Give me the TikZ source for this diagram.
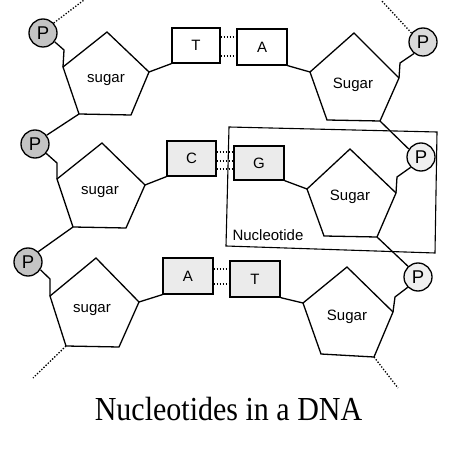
\documentclass[tikz,border=0pt]{standalone}
\usepackage{fontspec}
\setmainfont{Liberation Serif}
\setsansfont{Liberation Sans}
\usetikzlibrary{calc}
\definecolor{pdark}{HTML}{C4C4C4}
\definecolor{pmid}{HTML}{DADADA}
\definecolor{plight}{HTML}{EFEFEF}
\definecolor{boxgray}{HTML}{EBEBEB}
\tikzset{
  ln/.style={line width=1.3pt, line join=miter},
  dotln/.style={line width=1.3pt, dash pattern=on 1.3pt off 1.7pt},
  phos/.style={circle, draw, line width=1.3pt, minimum size=28pt, inner sep=0pt, font=\sffamily\fontsize{18.5}{18.5}\selectfont},
  base/.style={draw, line width=1.3pt, inner sep=0pt, font=\sffamily\fontsize{15}{15}\selectfont},
  sug/.style={font=\sffamily\fontsize{15}{15}\selectfont}
}
\newcommand\mypent[8]{%
  \coordinate (#1-a) at #2; \coordinate (#1-r) at #3; \coordinate (#1-br) at #4;
  \coordinate (#1-bl) at #5; \coordinate (#1-l) at #6;
  \draw[ln] (#1-a) -- (#1-r) -- (#1-br) -- (#1-bl) -- (#1-l) -- cycle;
  \node[sug] (#1-t) at #7 {#8};}
\begin{document}
\begin{tikzpicture}[x=1pt,y=-1pt]
\useasboundingbox (0,0) rectangle (474,449);
% pentagons
\mypent{TL}{(107,32)}{(149,72)}{(131,115)}{(79,114)}{(63,67)}{(106,80)}{sugar}
\mypent{TR}{(354,33)}{(399,78)}{(380,121)}{(327,120)}{(310,72)}{(353,85)}{Sugar}
\mypent{ML}{(102,143)}{(145,185)}{(126,228)}{(73,227)}{(57,179)}{(100,192)}{sugar}
\mypent{MR}{(350,149)}{(396,193)}{(377,237)}{(324,236)}{(307,189)}{(350,197)}{Sugar}
\mypent{BL}{(96,258)}{(139,302)}{(119,347)}{(66,346)}{(50,296)}{(92,310)}{sugar}
\mypent{BR}{(347,267)}{(393,312)}{(374,357)}{(321,354)}{(303,303)}{(347,317)}{Sugar}
% phosphates
\node[phos, fill=pdark] (P1) at (43,33) {P};
\node[phos, fill=pmid] (P2) at (423,42) {P};
\node[phos, fill=pdark] (P3) at (35,144) {P};
\node[phos, fill=plight] (P4) at (421,157) {P};
\node[phos, fill=pdark] (P5) at (28,262) {P};
\node[phos, fill=plight] (P6) at (418,277) {P};
% bases
\node[base, fill=white, minimum width=48pt, minimum height=35pt] (T1) at (196,45.5) {T};
\node[base, fill=white, minimum width=50pt, minimum height=36pt] (A1) at (262,47) {A};
\node[base, fill=boxgray, minimum width=49pt, minimum height=35pt] (C) at (191.5,158.5) {C};
\node[base, fill=boxgray, minimum width=50pt, minimum height=34pt] (G) at (259,163) {G};
\node[base, fill=boxgray, minimum width=50pt, minimum height=36pt] (A2) at (188,276) {A};
\node[base, fill=boxgray, minimum width=50pt, minimum height=36pt] (T2) at (255,279) {T};
% sugar-base bonds
\draw[ln] (TL-r) -- (T1.south west);
\draw[ln] (A1.south east) -- (TR-l);
\draw[ln] (ML-r) -- (C.south west);
\draw[ln] (G.south east) -- (MR-l);
\draw[ln] (BL-r) -- (A2.south west);
\draw[ln] (T2.south east) -- (BR-l);
% hydrogen bonds
\draw[dotln] (T1.east |- 0,37) -- (A1.west |- 0,37);
\draw[dotln] (T1.east |- 0,56) -- (A1.west |- 0,56);
\draw[dotln] (C.east |- 0,152) -- (G.west |- 0,152);
\draw[dotln] (C.east |- 0,161) -- (G.west |- 0,161);
\draw[dotln] (C.east |- 0,169) -- (G.west |- 0,169);
\draw[dotln] (A2.east |- 0,269) -- (T2.west |- 0,269);
\draw[dotln] (A2.east |- 0,284) -- (T2.west |- 0,284);
% phosphate-sugar bonds
\coordinate (e1) at (64,50);
\coordinate (e2) at (400,63);
\coordinate (e3) at (57,163);
\coordinate (e4) at (397,177);
\coordinate (e5) at (50,279);
\coordinate (e6) at (395,297);
\draw[ln] (P1.-37) -- (e1) -- (TL-l);
\draw[ln] (P2.-128) -- (e2) -- (TR-r);
\draw[ln] (P3.-40) -- (e3) -- (ML-l);
\draw[ln] (P4.-135) -- (e4) -- (MR-r);
\draw[ln] (P5.-32) -- (e5) -- (BL-l);
\draw[ln] (P6.-135) -- (e6) -- (BR-r);
\draw[ln] (TL-bl) -- (P3.37);
\draw[ln] (TR-br) -- (P4.147);
\draw[ln] (ML-bl) -- (P5.45);
\draw[ln] (MR-br) -- (P6.133);
% strand continuation
\coordinate (c1) at (84,0);
\coordinate (c2) at (381,0);
\coordinate (c3) at (33,378);
\coordinate (c4) at (398,388);
\draw[dotln] (P1.43) -- (c1);
\draw[dotln] (P2.142) -- (c2);
\draw[dotln] (BL-bl) -- (c3);
\draw[dotln] (BR-br) -- (c4);
% nucleotide frame
\coordinate (n1) at (229,127);
\coordinate (n2) at (437,132);
\coordinate (n3) at (435,253);
\coordinate (n4) at (226,246);
\draw[line width=1.1pt] (n1) -- (n2) -- (n3) -- (n4) -- cycle;
\node[sug, anchor=base west] (nl) at (229,241) {Nucleotide};
% title
\node[anchor=base, font=\fontsize{30}{30}\selectfont, yscale=1.12] (title) at (228.5,420) {Nucleotides in a DNA};
\end{tikzpicture}
\end{document}
